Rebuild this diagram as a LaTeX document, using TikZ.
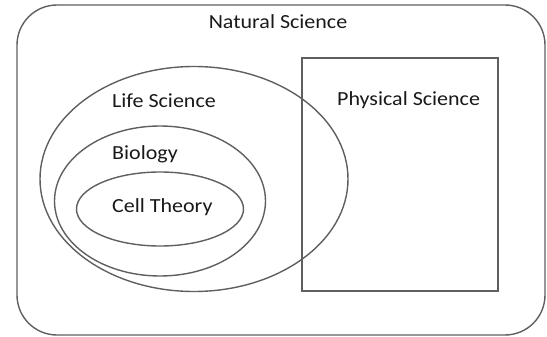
\documentclass[tikz,border=0pt]{standalone}
\usepackage{fontspec}
\setmainfont[FakeStretch=1.1]{Carlito}
\usepackage{tikz}
\usetikzlibrary{shapes.geometric}
\definecolor{penline}{RGB}{95,95,95}
\definecolor{penink}{RGB}{25,25,25}

\begin{document}
\begin{tikzpicture}[x=1pt, y=-1pt,
		ring/.style={draw=penline, line width=1.4pt, ellipse, inner sep=0pt},
		frame/.style={draw=penline, line width=1.4pt, inner sep=0pt},
		setname/.style={text=penink, inner sep=0pt, font=\fontsize{20}{24}\selectfont}
	]
		\useasboundingbox (0,0) rectangle (547,337);
		\node[frame, rounded corners=40pt, minimum width=528pt, minimum height=330pt] (natural) at (281,170) {};
		\node[frame, minimum width=196pt, minimum height=233pt] (physical) at (400,174.5) {};
		\node[ring, minimum width=308pt, minimum height=225pt] (life) at (194,179) {};
		\node[ring, minimum width=211pt, minimum height=150pt] (biology) at (160,201) {};
		\node[ring, minimum width=167pt, minimum height=74pt] (cell) at (160,209) {};
		\node[setname, anchor=base] (naturaltext) at (278,29) {Natural Science};
		\node[setname, anchor=base west] (physicaltext) at (337,106) {Physical Science};
		\node[setname, anchor=base west] (lifetext) at (112,107) {Life Science};
		\node[setname, anchor=base west] (biologytext) at (112,160) {Biology};
		\node[setname, anchor=base west] (celltext) at (112,212) {Cell Theory};
	\end{tikzpicture}
\end{document}
